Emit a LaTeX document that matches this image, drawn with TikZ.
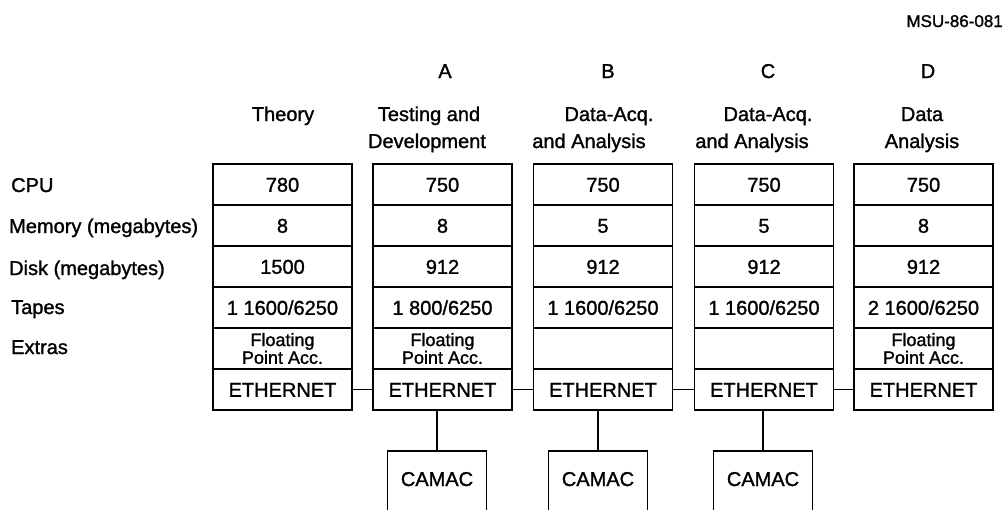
\documentclass[tikz,border=0pt]{standalone}
\usepackage{fontspec}
\setmainfont{Liberation Sans}[FakeBold=1.3]
\begin{document}
\begin{tikzpicture}[x=1pt,y=-1pt,
  every node/.style={font=\fontsize{20}{24}\selectfont, inner sep=0pt},
  cell/.style={draw, line width=1.8pt, minimum width=139pt, minimum height=41pt, text height=14.5pt, text depth=0pt},
  fpcell/.style={draw, line width=1.8pt, minimum width=139pt, minimum height=41pt, align=center, font=\fontsize{18}{16}\selectfont},
  camac/.style={draw, line width=1.8pt, minimum width=99pt, text height=35pt, text depth=54pt},
  conn/.style={line width=1.8pt},
  rowlbl/.style={anchor=base west},
  hdr/.style={anchor=base}]
\useasboundingbox (0,0) rectangle (1004,509);
\clip (0,0) rectangle (1004,509);

% report number
\node[anchor=base east, font=\fontsize{17}{20}\selectfont] (msu) at (1003,27) {MSU-86-081};

% column headers
\node[hdr] (hA) at (445,78) {A};
\node[hdr] (hB) at (608,78) {B};
\node[hdr] (hC) at (768,78) {C};
\node[hdr] (hD) at (928,78) {D};
\node[hdr] (hT1) at (283,121) {Theory};
\node[hdr] (hA1) at (429,121) {Testing and};
\node[hdr] (hA2) at (427,148) {Development};
\node[hdr] (hB1) at (609,121) {Data-Acq.};
\node[hdr] (hB2) at (589,148) {and Analysis};
\node[hdr] (hC1) at (768,121) {Data-Acq.};
\node[hdr] (hC2) at (752,148) {and Analysis};
\node[hdr] (hD1) at (922,121) {Data};
\node[hdr] (hD2) at (922,148) {Analysis};

% row labels
\node[rowlbl] (lcpu) at (11,192) {CPU};
\node[rowlbl] (lmem) at (9,233) {Memory (megabytes)};
\node[rowlbl] (ldisk) at (9,275) {Disk (megabytes)};
\node[rowlbl] (ltape) at (11,314) {Tapes};
\node[rowlbl] (lext) at (11,354) {Extras};

% Theory column
\node[cell] (t1) at (282.5,184.5) {780};
\node[cell] (t2) at (282.5,225.5) {8};
\node[cell] (t3) at (282.5,266.5) {1500};
\node[cell] (t4) at (282.5,307.5) {1 1600/6250};
\node[fpcell] (t5) at (282.5,348.5) {Floating\\Point Acc.};
\node[cell] (t6) at (282.5,389.5) {ETHERNET};

% A column
\node[cell] (a1) at (442.5,184.5) {750};
\node[cell] (a2) at (442.5,225.5) {8};
\node[cell] (a3) at (442.5,266.5) {912};
\node[cell] (a4) at (442.5,307.5) {1 800/6250};
\node[fpcell] (a5) at (442.5,348.5) {Floating\\Point Acc.};
\node[cell] (a6) at (442.5,389.5) {ETHERNET};

% B column
\node[cell] (b1) at (603,184.5) {750};
\node[cell] (b2) at (603,225.5) {5};
\node[cell] (b3) at (603,266.5) {912};
\node[cell] (b4) at (603,307.5) {1 1600/6250};
\node[cell] (b5) at (603,348.5) {};
\node[cell] (b6) at (603,389.5) {ETHERNET};

% C column
\node[cell] (c1) at (764,184.5) {750};
\node[cell] (c2) at (764,225.5) {5};
\node[cell] (c3) at (764,266.5) {912};
\node[cell] (c4) at (764,307.5) {1 1600/6250};
\node[cell] (c5) at (764,348.5) {};
\node[cell] (c6) at (764,389.5) {ETHERNET};

% D column
\node[cell] (d1) at (923.5,184.5) {750};
\node[cell] (d2) at (923.5,225.5) {8};
\node[cell] (d3) at (923.5,266.5) {912};
\node[cell] (d4) at (923.5,307.5) {2 1600/6250};
\node[fpcell] (d5) at (923.5,348.5) {Floating\\Point Acc.};
\node[cell] (d6) at (923.5,389.5) {ETHERNET};

% ethernet links
\draw[conn] (t6.east) -- (a6.west);
\draw[conn] (a6.east) -- (b6.west);
\draw[conn] (b6.east) -- (c6.west);
\draw[conn] (c6.east) -- (d6.west);

% CAMAC crates
\node[camac, anchor=base] (ca) at (437,486) {CAMAC};
\node[camac, anchor=base] (cb) at (598,486) {CAMAC};
\node[camac, anchor=base] (cc) at (763,486) {CAMAC};
\draw[conn] (ca.north) -- (ca.north |- a6.south);
\draw[conn] (cb.north) -- (cb.north |- b6.south);
\draw[conn] (cc.north) -- (cc.north |- c6.south);
\end{tikzpicture}
\end{document}
